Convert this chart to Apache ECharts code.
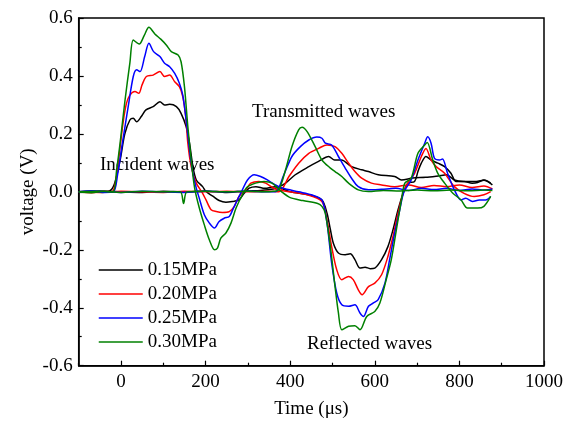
<!DOCTYPE html>
<html>
<head>
<meta charset="utf-8">
<script src="https://cdn.jsdelivr.net/npm/echarts@6/dist/echarts.min.js"></script>
<style>html,body{margin:0;padding:0;background:#fff}#c{width:566px;height:424px}</style>
</head>
<body>
<div id="c"></div>
<script>
var seriesNames = ['0.15MPa', '0.20MPa', '0.25MPa', '0.30MPa'];
var seriesColors = ['#000000', '#ff0000', '#0000ff', '#008000'];
var xTickLabels = [0, 200, 400, 600, 800, 1000];
var xMinorTicks = [-100, 100, 300, 500, 700, 900];
var yTickLabels = [-0.6, -0.4, -0.2, 0, 0.2, 0.4, 0.6];
var yMinorTicks = [-0.5, -0.3, -0.1, 0.1, 0.3, 0.5];

// incident-bar signals (incident + reflected waves)
var inc15T = [-100,-70,-45,-25,-15,-2,9,21,29,37,48,59,76,92,103,115,131,142,154,162,170,178,193,201,217,232,248,264,279,291,303,319,340,365,400,444,475,487,495,502,514,530,542,553,565,577,589,600,616,631,643,655,667,678,694,702,710,721,733,749,765,780,792,811,830,843,858,874];
var inc15V = [0,0.003,-0.002,0.005,0.03,0.11,0.2,0.248,0.254,0.242,0.26,0.283,0.294,0.311,0.3,0.302,0.294,0.271,0.225,0.168,0.087,0.041,0.018,0.001,-0.015,-0.03,-0.036,-0.033,-0.028,-0.005,0.013,0.018,0.012,0.018,0.0,-0.01,-0.028,-0.074,-0.13,-0.177,-0.211,-0.217,-0.214,-0.234,-0.263,-0.26,-0.265,-0.263,-0.234,-0.189,-0.131,-0.062,-0.005,0.03,0.036,0.07,0.099,0.122,0.11,0.099,0.087,0.064,0.036,0.036,0.03,0.032,0.041,0.03];
var inc20T = [-100,-70,-40,-22,-12,-2,5,13,21,33,42,50,60,76,92,103,115,127,138,146,153,158,166,178,193,201,213,225,240,256,268,279,295,307,326,342,365,400,440,475,487,498,510,522,538,549,561,570,585,600,616,631,643,655,667,678,694,710,721,733,745,765,788,811,835,858,874];
var inc20V = [0,-0.003,0.002,0,0.04,0.156,0.24,0.306,0.334,0.346,0.34,0.37,0.398,0.403,0.415,0.398,0.403,0.38,0.363,0.329,0.26,0.168,0.087,0.03,-0.005,-0.028,-0.062,-0.068,-0.071,-0.068,-0.05,-0.016,0.007,0.03,0.036,0.03,0.01,0.0,-0.01,-0.033,-0.097,-0.189,-0.269,-0.303,-0.292,-0.303,-0.338,-0.355,-0.327,-0.315,-0.286,-0.223,-0.154,-0.074,-0.005,0.03,0.064,0.122,0.15,0.11,0.087,0.064,0.018,-0.005,-0.016,-0.01,0.001];
var inc25T = [-100,-70,-40,-18,-8,2,10,17,29,37,45,56,66,77,92,103,115,127,138,146,154,162,170,178,185,197,209,221,232,244,256,264,275,287,299,315,330,346,365,381,420,450,475,487,498,510,522,538,553,565,573,585,596,608,624,635,647,659,669,686,702,718,725,733,741,753,760,772,788,804,815,831,847,862,874];
var inc25V = [0,0.003,-0.002,0,0.06,0.156,0.23,0.294,0.398,0.421,0.415,0.467,0.513,0.484,0.467,0.444,0.432,0.409,0.375,0.334,0.248,0.145,0.064,0.013,-0.022,-0.079,-0.108,-0.125,-0.102,-0.091,-0.085,-0.062,-0.028,0.007,0.041,0.059,0.053,0.041,0.024,0.013,0.0,-0.01,-0.028,-0.108,-0.246,-0.349,-0.39,-0.395,-0.39,-0.418,-0.43,-0.395,-0.384,-0.372,-0.315,-0.234,-0.142,-0.062,0.0,0.041,0.11,0.168,0.19,0.168,0.116,0.11,0.113,0.064,0.007,-0.028,-0.022,-0.033,-0.028,-0.028,-0.016];
var inc30T = [-100,-70,-40,-19,-10,-2,9,21,29,43,55,66,80,94,107,119,135,142,150,158,166,174,185,197,209,221,228,236,248,260,272,287,299,318,338,357,380,400,430,465,475,483,495,506,514,522,538,553,565,581,600,612,627,639,651,663,671,686,702,718,724,737,749,765,784,804,819,843,858,874];
var inc30V = [0,-0.003,0.002,0,0.08,0.17,0.31,0.445,0.524,0.51,0.54,0.568,0.545,0.527,0.507,0.484,0.472,0.449,0.363,0.225,0.11,0.014,-0.055,-0.114,-0.166,-0.2,-0.194,-0.16,-0.142,-0.108,-0.056,-0.01,0.017,0.03,0.036,0.03,0.0,-0.02,-0.03,-0.04,-0.05,-0.074,-0.19,-0.327,-0.418,-0.476,-0.464,-0.462,-0.476,-0.43,-0.413,-0.384,-0.303,-0.234,-0.131,-0.028,0.03,0.047,0.133,0.162,0.17,0.11,0.064,0.03,-0.004,-0.028,-0.056,-0.056,-0.05,-0.016];

// transmitted-bar signals
var tr15T = [-100,-50,0,50,100,150,200,250,300,330,360,375,389,412,444,467,491,505,521,545,569,585,608,647,663,690,720,750,770,788,810,840,858,878];
var tr15V = [0,0.003,0.0,-0.002,0.002,0,0.003,-0.002,0.003,0.005,0.01,0.018,0.03,0.059,0.087,0.105,0.122,0.11,0.11,0.087,0.076,0.07,0.059,0.053,0.041,0.048,0.05,0.055,0.059,0.041,0.036,0.036,0.04,0.024];
var tr20T = [-100,-50,0,50,100,150,200,250,300,350,373,397,420,444,467,487,506,522,538,553,569,592,616,647,680,710,740,770,800,830,858,878];
var tr20V = [0,-0.002,0.002,0,-0.002,0.002,0,0.002,0.0,0.002,0.0,0.053,0.099,0.133,0.15,0.162,0.156,0.133,0.099,0.07,0.047,0.03,0.024,0.018,0.024,0.015,0.022,0.018,0.024,0.015,0.02,0.01];
var tr25T = [-100,-50,0,50,100,150,200,250,300,340,365,385,404,424,444,463,475,483,498,514,530,545,561,585,616,650,680,710,740,770,800,830,860,878];
var tr25V = [0,0.002,-0.002,0.002,0,-0.002,0.002,0,0.002,0.0,0.0,0.059,0.122,0.156,0.179,0.189,0.185,0.168,0.162,0.122,0.082,0.047,0.018,0.007,0.009,0.012,0.005,0.012,0.008,0.012,0.005,0.01,0.006,0.01];
var tr30T = [-100,-50,0,50,100,140,148,156,200,250,300,340,360,373,389,404,420,428,440,459,475,495,506,522,538,561,585,620,660,700,740,780,820,860,878];
var tr30V = [0,0.002,-0.002,0.002,0,0.0,-0.04,0.0,0.002,0.0,0.002,0.0,0.002,0.007,0.076,0.156,0.214,0.223,0.208,0.156,0.11,0.082,0.07,0.053,0.03,0.007,0.001,0.005,0.003,0.006,0.004,0.006,0.004,0.006,0.005];

function zip(t, v) { return t.map(function (x, i) { return [x, v[i]]; }); }

var incT = [inc15T, inc20T, inc25T, inc30T];
var incV = [inc15V, inc20V, inc25V, inc30V];
var trT = [tr15T, tr20T, tr25T, tr30T];
var trV = [tr15V, tr20V, tr25V, tr30V];

var FONT = 'Liberation Serif, Times New Roman, serif';
var series = [];
for (var i = 0; i < 4; i++) {
  [zip(incT[i], incV[i]), zip(trT[i], trV[i])].forEach(function (d) {
    series.push({
      type: 'line', name: seriesNames[i], data: d, xAxisIndex: 0, yAxisIndex: 0,
      symbol: 'none', showSymbol: false, smooth: 0.3, color: seriesColors[i],
      lineStyle: { width: 1.5, color: seriesColors[i] }, animation: false
    });
  });
}

var chart = echarts.init(document.getElementById('c'), null, { renderer: 'canvas' });
chart.setOption({
  animation: false,
  grid: { left: 78.7, right: 21.5, top: 18, bottom: 58.3, show: true, borderColor: '#000', borderWidth: 1.5 },
  legend: {
    data: seriesNames, orient: 'vertical', left: 93, top: 255, itemWidth: 44, itemHeight: 14, itemGap: 4,
    textStyle: { fontFamily: FONT, fontSize: 19, color: '#000', lineHeight: 20 },
    lineStyle: { width: 1.5 },
    itemStyle: { opacity: 0 }
  },
  xAxis: [{
    type: 'value', min: -100, max: 1000, position: 'bottom',
    name: 'Time (μs)', nameLocation: 'middle', nameGap: 34,
    nameTextStyle: { fontFamily: FONT, fontSize: 19, color: '#000' },
    axisLine: { onZero: false, lineStyle: { color: '#000', width: 1.5 } },
    axisTick: { inside: true, length: 5, customValues: xTickLabels, lineStyle: { color: '#000', width: 1.2 } },
    axisLabel: { customValues: xTickLabels, fontFamily: FONT, fontSize: 19, color: '#000', margin: 7,
      formatter: function (v) { return String(v); } },
    splitLine: { show: false }
  }, {
    type: 'value', min: -100, max: 1000, position: 'bottom',
    axisLine: { show: false, onZero: false },
    axisTick: { inside: true, length: 3, customValues: xMinorTicks, lineStyle: { color: '#000', width: 1.2 } },
    axisLabel: { show: false }, splitLine: { show: false }
  }],
  yAxis: [{
    type: 'value', min: -0.6, max: 0.6, position: 'left',
    name: 'voltage (V)', nameLocation: 'middle', nameGap: 41, nameMoveOverlap: false,
    nameTextStyle: { fontFamily: FONT, fontSize: 19, color: '#000' },
    axisLine: { onZero: false, lineStyle: { color: '#000', width: 1.5 } },
    axisTick: { inside: true, length: 5, customValues: yTickLabels, lineStyle: { color: '#000', width: 1.2 } },
    axisLabel: { customValues: yTickLabels, fontFamily: FONT, fontSize: 19, color: '#000', margin: 6,
      formatter: function (v) { return v.toFixed(1); } },
    splitLine: { show: false }
  }, {
    type: 'value', min: -0.6, max: 0.6, position: 'left',
    axisLine: { show: false, onZero: false },
    axisTick: { inside: true, length: 3, customValues: yMinorTicks, lineStyle: { color: '#000', width: 1.2 } },
    axisLabel: { show: false }, splitLine: { show: false }
  }],
  graphic: [
    { type: 'text', left: 100, top: 156, style: { text: 'Incident waves', font: '19px ' + FONT, fill: '#000' } },
    { type: 'text', left: 252, top: 103, style: { text: 'Transmitted waves', font: '19px ' + FONT, fill: '#000' } },
    { type: 'text', left: 307, top: 335, style: { text: 'Reflected waves', font: '19px ' + FONT, fill: '#000' } }
  ],
  series: series
});
</script>
</body>
</html>
